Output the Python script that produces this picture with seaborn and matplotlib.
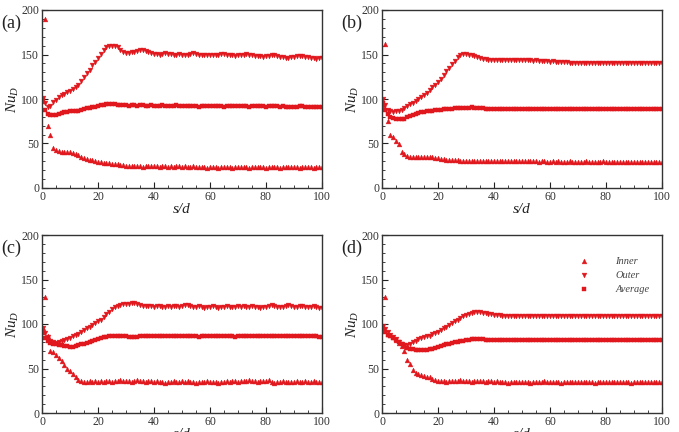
import numpy as np
import pandas as pd
import matplotlib
matplotlib.use("Agg")
import matplotlib.pyplot as plt
import seaborn as sns
from matplotlib.ticker import MultipleLocator

# x positions: 0.5, then 1..100
s_d = [0.5] + list(range(1, 101))

inner_a = [98, 190, 70, 60, 45, 43, 42, 41, 41, 40, 40,
           39, 38, 37, 35, 34, 33, 32, 31, 30, 29,
           29, 28, 28, 28, 27, 27, 27, 26, 26, 25,
           25, 25, 25, 25, 25, 24, 25, 25, 25, 25,
           25, 24, 25, 25, 24, 25, 24, 25, 25, 24,
           25, 24, 24, 25, 24, 24, 24, 24, 23, 24,
           24, 24, 23, 24, 24, 24, 24, 23, 24, 24,
           24, 24, 24, 23, 24, 24, 24, 24, 24, 23,
           24, 24, 24, 24, 23, 24, 24, 24, 24, 24,
           24, 23, 24, 24, 24, 24, 23, 24, 24, 24]
outer_a = [101, 96, 91, 92, 97, 99, 102, 104, 106, 108, 109,
           111, 113, 116, 120, 125, 129, 133, 138, 142, 146,
           151, 155, 158, 160, 160, 159, 158, 155, 153, 152,
           152, 153, 153, 154, 155, 155, 154, 153, 152, 151,
           151, 150, 151, 152, 151, 151, 150, 150, 151, 150,
           149, 150, 151, 152, 151, 150, 149, 149, 149, 149,
           150, 149, 150, 151, 151, 150, 149, 149, 148, 149,
           149, 150, 151, 150, 149, 148, 148, 148, 147, 148,
           148, 149, 149, 148, 147, 147, 146, 146, 147, 147,
           148, 148, 148, 147, 147, 146, 146, 145, 146, 146]
avg_a = [99, 88, 83, 82, 82, 82, 83, 84, 85, 85, 86,
         86, 87, 87, 88, 89, 90, 90, 91, 91, 92,
         93, 93, 94, 94, 94, 94, 93, 93, 93, 93,
         92, 93, 93, 92, 93, 93, 92, 92, 93, 92,
         92, 92, 93, 92, 92, 92, 92, 93, 92, 92,
         92, 92, 92, 92, 92, 91, 92, 92, 92, 92,
         92, 92, 92, 92, 91, 92, 92, 92, 92, 92,
         92, 92, 92, 91, 92, 92, 92, 92, 92, 91,
         92, 92, 92, 92, 91, 92, 91, 91, 91, 91,
         91, 92, 92, 91, 91, 91, 91, 91, 91, 91]

inner_b = [93, 162, 75, 60, 57, 53, 49, 41, 38, 36, 35,
           35, 35, 35, 35, 35, 35, 35, 35, 34, 34,
           33, 33, 32, 32, 31, 31, 31, 30, 30, 30,
           30, 30, 30, 30, 30, 30, 30, 30, 30, 30,
           30, 30, 30, 30, 30, 30, 30, 30, 30, 30,
           30, 30, 30, 30, 30, 29, 30, 30, 29, 29,
           30, 29, 30, 29, 29, 29, 30, 29, 29, 29,
           29, 29, 30, 29, 29, 29, 29, 29, 30, 29,
           29, 29, 29, 29, 29, 29, 29, 29, 29, 29,
           29, 29, 29, 29, 29, 29, 29, 29, 29, 29]
outer_b = [100, 93, 88, 86, 85, 86, 87, 88, 90, 92, 94,
           96, 98, 100, 102, 104, 107, 110, 113, 116, 119,
           123, 127, 131, 135, 139, 143, 147, 150, 151, 151,
           150, 149, 148, 147, 146, 145, 145, 144, 144, 144,
           144, 144, 144, 144, 144, 144, 144, 144, 144, 144,
           144, 144, 144, 143, 144, 143, 143, 143, 143, 142,
           143, 142, 142, 142, 142, 142, 141, 141, 141, 141,
           141, 141, 141, 141, 141, 141, 141, 141, 141, 141,
           141, 141, 141, 141, 141, 140, 141, 141, 141, 141,
           140, 141, 141, 140, 141, 140, 140, 140, 140, 140]
avg_b = [95, 88, 83, 80, 79, 78, 77, 77, 78, 80, 81,
         82, 83, 84, 85, 85, 86, 87, 87, 88, 88,
         88, 89, 89, 89, 89, 90, 90, 90, 90, 90,
         90, 91, 90, 90, 90, 90, 89, 89, 89, 89,
         89, 89, 89, 89, 89, 89, 89, 89, 89, 89,
         89, 89, 89, 89, 89, 89, 89, 89, 89, 89,
         89, 89, 89, 89, 89, 89, 89, 89, 89, 89,
         89, 89, 89, 89, 89, 89, 89, 89, 89, 89,
         89, 89, 89, 89, 89, 89, 89, 89, 89, 89,
         89, 89, 89, 89, 89, 89, 89, 89, 89, 89]

inner_c = [95, 130, 86, 70, 68, 65, 62, 58, 54, 50, 47,
           44, 40, 37, 36, 35, 35, 36, 35, 36, 35,
           36, 35, 36, 36, 35, 36, 36, 37, 36, 36,
           36, 35, 36, 37, 36, 36, 35, 36, 36, 35,
           36, 35, 35, 34, 35, 35, 36, 35, 35, 36,
           35, 36, 35, 35, 34, 35, 35, 35, 36, 35,
           35, 35, 34, 35, 35, 36, 35, 36, 36, 35,
           36, 36, 36, 37, 36, 36, 35, 36, 36, 36,
           37, 35, 34, 35, 35, 36, 35, 35, 35, 35,
           36, 35, 35, 36, 35, 35, 36, 35, 35, 35]
outer_c = [96, 90, 85, 81, 80, 79, 80, 81, 82, 83, 84,
           86, 88, 89, 91, 93, 95, 97, 99, 101, 103,
           105, 108, 111, 114, 117, 119, 120, 121, 122, 122,
           123, 124, 124, 123, 121, 120, 120, 120, 120, 119,
           120, 120, 119, 119, 120, 119, 120, 120, 119, 120,
           121, 121, 120, 119, 119, 120, 119, 118, 119, 119,
           120, 119, 118, 119, 119, 120, 119, 119, 119, 120,
           119, 120, 119, 119, 120, 119, 119, 118, 119, 119,
           120, 121, 120, 119, 119, 119, 120, 121, 120, 119,
           119, 120, 120, 119, 119, 119, 120, 119, 118, 118]
avg_c = [90, 84, 81, 79, 78, 77, 76, 76, 75, 75, 74,
         74, 75, 76, 77, 78, 79, 80, 81, 82, 83,
         84, 85, 85, 86, 86, 87, 87, 86, 86, 86,
         85, 85, 85, 85, 86, 86, 86, 86, 86, 86,
         86, 86, 86, 86, 86, 86, 86, 86, 86, 86,
         86, 86, 86, 86, 86, 85, 86, 86, 86, 86,
         86, 86, 86, 86, 86, 86, 86, 86, 85, 86,
         86, 86, 86, 86, 86, 86, 86, 86, 86, 86,
         86, 86, 86, 86, 86, 86, 86, 86, 86, 86,
         86, 86, 86, 86, 86, 86, 86, 86, 85, 85]

inner_d = [96, 130, 89, 88, 85, 82, 79, 75, 70, 60, 55,
           48, 45, 44, 43, 42, 41, 40, 38, 37, 36,
           36, 36, 35, 36, 36, 36, 36, 37, 36, 36,
           36, 35, 36, 36, 36, 36, 35, 36, 36, 35,
           36, 35, 35, 35, 34, 35, 35, 35, 35, 35,
           35, 35, 34, 35, 35, 35, 35, 36, 35, 35,
           35, 35, 35, 34, 35, 35, 35, 35, 35, 35,
           35, 35, 35, 35, 35, 34, 35, 35, 35, 35,
           35, 35, 35, 35, 35, 35, 35, 35, 34, 35,
           35, 35, 35, 35, 35, 35, 35, 35, 35, 35]
outer_d = [98, 94, 91, 88, 85, 83, 80, 78, 76, 76, 78,
           80, 81, 83, 84, 85, 86, 87, 89, 90, 91,
           93, 95, 97, 99, 101, 103, 105, 107, 109, 110,
           111, 112, 113, 113, 113, 112, 112, 111, 111, 110,
           110, 110, 109, 109, 109, 109, 109, 109, 109, 109,
           109, 109, 109, 109, 109, 109, 109, 109, 109, 109,
           109, 109, 109, 109, 109, 109, 109, 109, 109, 109,
           109, 109, 109, 109, 109, 109, 109, 109, 109, 109,
           109, 109, 109, 109, 109, 109, 109, 109, 109, 109,
           109, 109, 109, 109, 109, 109, 109, 109, 109, 109]
avg_d = [96, 91, 88, 86, 84, 82, 80, 78, 75, 73, 72,
         72, 71, 71, 71, 71, 71, 72, 72, 73, 74,
         75, 76, 77, 78, 79, 80, 80, 81, 81, 82,
         82, 83, 83, 83, 83, 83, 82, 82, 82, 82,
         82, 82, 82, 82, 82, 82, 82, 82, 82, 82,
         82, 82, 82, 82, 82, 82, 82, 82, 82, 82,
         82, 82, 82, 82, 82, 82, 82, 82, 82, 82,
         82, 82, 82, 82, 82, 82, 82, 82, 82, 82,
         82, 82, 82, 82, 82, 82, 82, 82, 82, 82,
         82, 82, 82, 82, 82, 82, 82, 82, 82, 82]

panel_labels = ["(a)", "(b)", "(c)", "(d)"]
series_names = ["Inner", "Outer", "Average"]
x_ticks = [0, 20, 40, 60, 80, 100]
y_ticks = [0, 50, 100, 150, 200]

panels = [(inner_a, outer_a, avg_a), (inner_b, outer_b, avg_b),
          (inner_c, outer_c, avg_c), (inner_d, outer_d, avg_d)]

sns.set_theme(style="ticks")
plt.rcParams["font.family"] = ["Liberation Serif", "DejaVu Serif"]
plt.rcParams["mathtext.fontset"] = "custom"
plt.rcParams["mathtext.it"] = "Liberation Serif:italic"
plt.rcParams["mathtext.rm"] = "Liberation Serif"

W, H = 679, 432
fig = plt.figure(figsize=(W / 100, H / 100), dpi=100)
red = "#e0181e"

# axes boxes in pixels: (left, top, right, bottom)
boxes = [(42, 10, 322, 188), (382, 10, 662, 188),
         (42, 235, 322, 413), (382, 235, 662, 413)]

markers = ["^", "v", "s"]
sizes = [12, 12, 7]

for i, (box, data) in enumerate(zip(boxes, panels)):
    l, t, r, b = box
    ax = fig.add_axes([l / W, 1 - b / H, (r - l) / W, (b - t) / H])
    for name, vals, mk, sz in zip(series_names, data, markers, sizes):
        df = pd.DataFrame({"s": s_d, "Nu": vals})
        sns.scatterplot(data=df, x="s", y="Nu", marker=mk, s=sz, color=red,
                        edgecolor=red, linewidth=0.3, ax=ax,
                        label=name if i == 3 else None, legend=False)
    ax.set_xlim(0, 100)
    ax.set_ylim(0, 200)
    ax.set_xticks(x_ticks)
    ax.set_yticks(y_ticks)
    ax.xaxis.set_minor_locator(MultipleLocator(5))
    ax.yaxis.set_minor_locator(MultipleLocator(10))
    ax.tick_params(which="both", direction="in", top=False, right=False,
                   labelsize=8.5, labelcolor="#333333", color="#222222")
    ax.tick_params(which="major", length=4, width=0.8, pad=2)
    ax.tick_params(which="minor", length=2, width=0.6)
    for sp in ax.spines.values():
        sp.set_linewidth(1.0)
        sp.set_color("#333333")
    ax.set_xlabel("s/d", fontsize=11, fontstyle="italic", labelpad=0,
                  color="#222222")
    ax.set_ylabel("$Nu_D$", fontsize=11, labelpad=0, color="#222222")
    fig.text((l - 42) / W + 1 / W, 1 - (t + 13) / H, panel_labels[i],
             fontsize=13, ha="left", va="center", color="#222222")
    if i == 3:
        leg = ax.legend(loc="upper left", bbox_to_anchor=(0.67, 0.93),
                        frameon=False, fontsize=7.5, handletextpad=2.5,
                        labelspacing=0.45, handlelength=1.0, markerscale=1.0)
        for txt in leg.get_texts():
            txt.set_fontstyle("italic")
            txt.set_color("#444444")

fig.savefig("out.png", dpi=100)
